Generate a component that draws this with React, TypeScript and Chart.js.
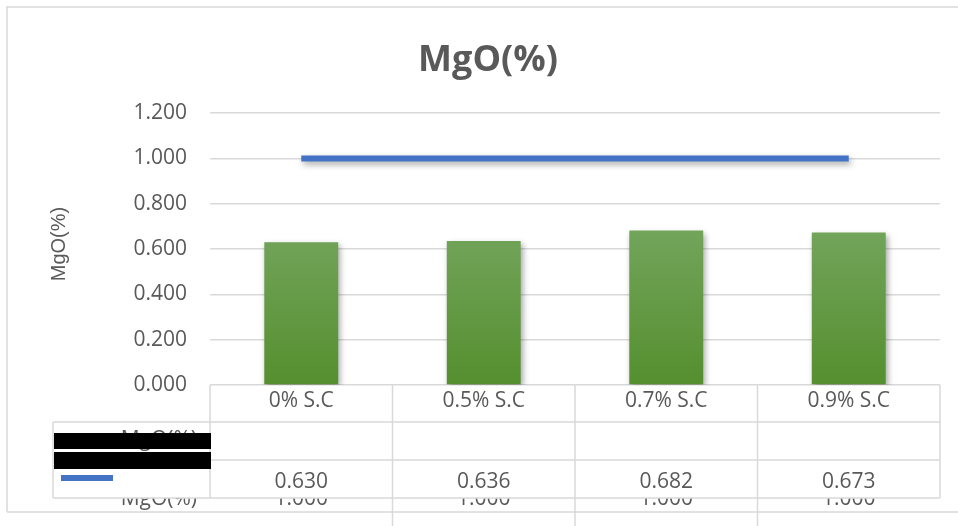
import React, { useEffect, useRef } from "react";
import { Chart, registerables } from "chart.js";

Chart.register(...registerables);

// ---- data ----
const categories = ["0% S.C", "0.5% S.C", "0.7% S.C", "0.9% S.C"];
const mgoValues = [0.63, 0.636, 0.682, 0.673];
const limitValues = [1.0, 1.0, 1.0, 1.0];
const seriesName = "MgO(%)";
const chartTitle = "MgO(%)";
const yMin = 0;
const yMax = 1.2;
const yStep = 0.2;

// ---- styles ----
const TEXT = "#595959";
const GRID = "#D9D9D9";
const FONT = "'Open Sans', sans-serif";
const BLUE = "#4472C4";
const PAD_LEFT = 36;

// white page + outer frame
const framePlugin = {
  id: "frame",
  beforeDraw(chart: any) {
    const { ctx, width } = chart;
    ctx.save();
    ctx.fillStyle = "#ffffff";
    ctx.fillRect(0, 0, width, chart.height);
    ctx.strokeStyle = GRID;
    ctx.lineWidth = 1.5;
    ctx.beginPath();
    ctx.moveTo(7, 512);
    ctx.lineTo(7, 7);
    ctx.lineTo(width, 7);
    ctx.stroke();
    ctx.restore();
  },
};

// soft drop shadow under bars and line
const shadowPlugin = {
  id: "markShadow",
  beforeDatasetsDraw(chart: any) {
    const { ctx } = chart;
    ctx.save();
    ctx.shadowColor = "rgba(0,0,0,0.35)";
    ctx.shadowBlur = 6;
    ctx.shadowOffsetX = 2;
    ctx.shadowOffsetY = 3;
  },
  afterDatasetsDraw(chart: any) {
    chart.ctx.restore();
  },
};

// data table under the plot
const tablePlugin = {
  id: "dataTable",
  afterDraw(chart: any) {
    const { ctx, chartArea, scales, width } = chart;
    const xs = scales.x;
    const n = categories.length;
    const cellW = (chartArea.right - chartArea.left) / n;
    const top = chartArea.bottom;
    const r1 = top + 37;
    const r2 = top + 75;
    const r3 = top + 113;
    const keyLeft = 53;
    const bottomLine = 512;

    ctx.save();
    ctx.font = `21px ${FONT}`;
    ctx.textBaseline = "alphabetic";

    // lower block (partly hidden behind the upper block)
    ctx.fillStyle = TEXT;
    ctx.textAlign = "right";
    ctx.fillText(seriesName, 197, r3 + 7);
    ctx.textAlign = "center";
    limitValues.forEach((v, i) => {
      ctx.fillText(v.toFixed(3), xs.getPixelForValue(i), r3 + 7);
    });

    ctx.strokeStyle = GRID;
    ctx.lineWidth = 1.5;
    ctx.beginPath();
    for (let i = 1; i < n; i++) {
      const bx = chartArea.left + cellW * i;
      ctx.moveTo(bx, r3);
      ctx.lineTo(bx, chart.height);
    }
    ctx.moveTo(7, bottomLine);
    ctx.lineTo(width, bottomLine);
    ctx.stroke();

    // upper block
    ctx.fillStyle = "#ffffff";
    ctx.fillRect(keyLeft, r1, chartArea.right - keyLeft, r3 - r1);
    ctx.fillRect(chartArea.left, top + 1, chartArea.right - chartArea.left, r1 - top);

    ctx.beginPath();
    for (let i = 0; i <= n; i++) {
      const bx = chartArea.left + cellW * i;
      ctx.moveTo(bx, top);
      ctx.lineTo(bx, r3);
    }
    ctx.moveTo(keyLeft, r1);
    ctx.lineTo(chartArea.right, r1);
    ctx.moveTo(chartArea.left, r2);
    ctx.lineTo(chartArea.right, r2);
    ctx.moveTo(keyLeft, r3);
    ctx.lineTo(chartArea.right, r3);
    ctx.moveTo(keyLeft, r1);
    ctx.lineTo(keyLeft, r3);
    ctx.stroke();

    // category labels
    ctx.fillStyle = TEXT;
    ctx.textAlign = "center";
    categories.forEach((c, i) => {
      ctx.fillText(c, xs.getPixelForValue(i), top + 22);
    });

    // bar values
    mgoValues.forEach((v, i) => {
      ctx.fillText(v.toFixed(3), xs.getPixelForValue(i), r2 + 28);
    });

    // legend key cell
    ctx.textAlign = "right";
    ctx.fillText(seriesName, 197, r1 + 24);
    ctx.fillStyle = "#000000";
    ctx.fillRect(54, 433, 157, 16);
    ctx.fillRect(54, 452, 157, 17);
    ctx.fillStyle = BLUE;
    ctx.fillRect(61, 475, 52, 6);

    ctx.restore();
  },
};

// rotated value-axis caption
const axisCaptionPlugin = {
  id: "axisCaption",
  afterDraw(chart: any) {
    const { ctx } = chart;
    ctx.save();
    ctx.translate(59, 244);
    ctx.rotate(-Math.PI / 2);
    ctx.font = "20px 'Liberation Sans', Arial, sans-serif";
    ctx.fillStyle = TEXT;
    ctx.textAlign = "center";
    ctx.textBaseline = "middle";
    ctx.fillText(seriesName, 0, 0);
    ctx.restore();
  },
};

export default function App() {
  const canvasRef = useRef<HTMLCanvasElement | null>(null);

  useEffect(() => {
    const canvas = canvasRef.current;
    if (!canvas) return;

    const chart = new Chart(canvas, {
      type: "bar",
      data: {
        labels: categories,
        datasets: [
          {
            type: "line",
            label: seriesName,
            data: limitValues,
            borderColor: BLUE,
            backgroundColor: BLUE,
            borderWidth: 6,
            pointRadius: 0,
            fill: false,
            order: 0,
          } as any,
          {
            type: "bar",
            label: seriesName,
            data: mgoValues,
            backgroundColor: (c: any) => {
              const { chart } = c;
              const area = chart.chartArea;
              if (!area) return "#5F9A3E";
              const yTop = chart.scales.y.getPixelForValue(0.68);
              const g = chart.ctx.createLinearGradient(0, yTop, 0, area.bottom);
              g.addColorStop(0, "#72A45A");
              g.addColorStop(1, "#558F2F");
              return g;
            },
            borderWidth: 0,
            barPercentage: 0.405,
            categoryPercentage: 1,
            order: 1,
          },
        ],
      },
      options: {
        animation: false,
        responsive: false,
        maintainAspectRatio: false,
        layout: { padding: { left: PAD_LEFT, right: 18, top: 0, bottom: 0 } },
        plugins: {
          legend: { display: false },
          tooltip: { enabled: false },
          title: {
            display: true,
            text: chartTitle,
            color: TEXT,
            font: { family: FONT, size: 36, weight: "bold", lineHeight: 1.2 },
            padding: { top: 39, bottom: 31 },
          },
        },
        scales: {
          x: {
            grid: { display: false },
            border: { display: false },
            ticks: { display: false },
            afterFit: (scale: any) => {
              scale.height = 141;
            },
          },
          y: {
            min: yMin,
            max: yMax,
            grid: { color: GRID, lineWidth: 1.5, drawTicks: false },
            border: { display: false },
            ticks: {
              stepSize: yStep,
              padding: 23,
              color: TEXT,
              font: { family: FONT, size: 21 },
              callback: (v: any) => Number(v).toFixed(3),
            },
            afterFit: (scale: any) => {
              scale.width = 210 - PAD_LEFT;
            },
          },
        },
      } as any,
      plugins: [framePlugin, shadowPlugin, tablePlugin, axisCaptionPlugin],
    });

    return () => chart.destroy();
  }, []);

  return (
    <div
      style={{
        position: "fixed",
        left: 0,
        top: 0,
        width: 958,
        height: 526,
        background: "#ffffff",
      }}
    >
      <canvas ref={canvasRef} width={958} height={526} />
    </div>
  );
}
